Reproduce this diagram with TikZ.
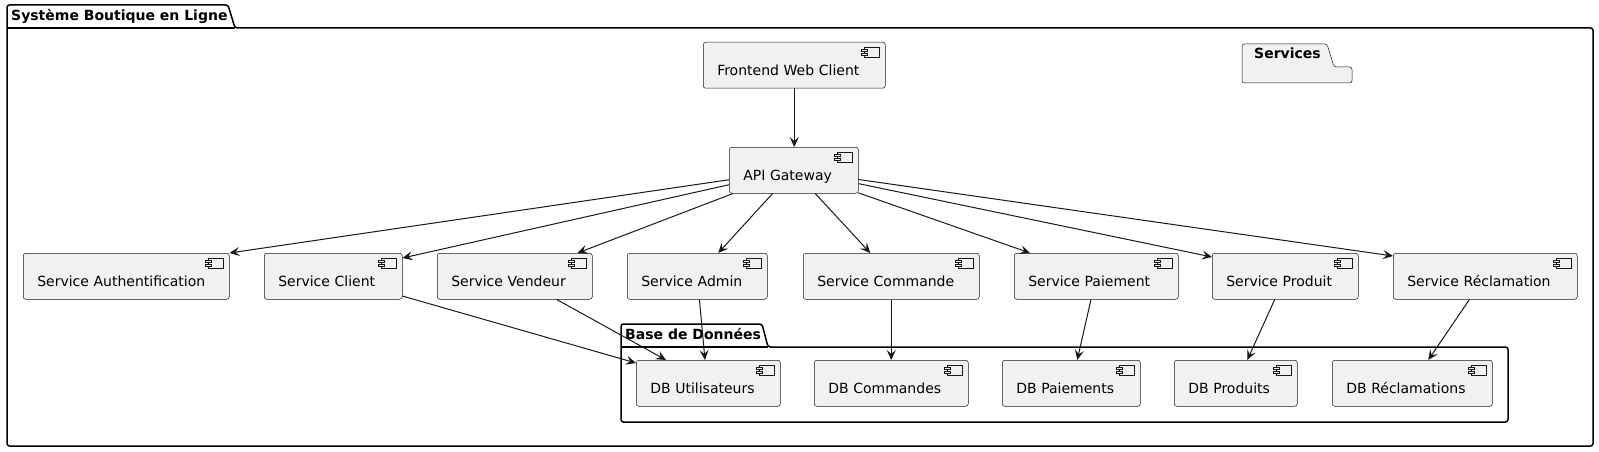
\documentclass[tikz,border=0pt]{standalone}
\usepackage{fontspec}
\setmainfont{DejaVu Sans}
\usetikzlibrary{arrows.meta,calc}
\definecolor{edgec}{HTML}{181818}
\definecolor{compfill}{HTML}{F1F1F1}
\begin{document}
\begin{tikzpicture}[x=1pt,y=-1pt,
  font=\fontsize{14pt}{17pt}\selectfont,
  comp/.style={draw=edgec, line width=0.5pt, fill=compfill, rounded corners=2.5pt,
    anchor=north west, inner xsep=14pt, inner ysep=0pt, minimum height=46pt,
    text height=24pt, text depth=3pt, align=left,
    path picture={
      \filldraw[sharp corners, fill=compfill, draw=edgec, line width=0.5pt]
        ([xshift=-21pt,yshift=-5pt]path picture bounding box.north east) rectangle ++(15pt,-10pt);
      \filldraw[sharp corners, fill=compfill, draw=edgec, line width=0.5pt]
        ([xshift=-24pt,yshift=-7pt]path picture bounding box.north east) rectangle ++(6pt,-2pt);
      \filldraw[sharp corners, fill=compfill, draw=edgec, line width=0.5pt]
        ([xshift=-24pt,yshift=-11pt]path picture bounding box.north east) rectangle ++(6pt,-2pt);
    }},
  pkg/.style={draw=black, line width=1.5pt, rounded corners=2.5pt},
  pkgtitle/.style={anchor=base west, inner sep=0pt, font=\fontsize{14pt}{17pt}\selectfont\bfseries},
  arr/.style={draw=edgec, line width=1pt, -{Stealth[length=10pt,width=9pt,inset=4pt]}}
]
\useasboundingbox (0,0) rectangle (1599,452);

% outer package
\draw[pkg] (7,446) -- (7,5) -- (228,5) -- (235,28) -- (1593,28) -- (1593,446) -- cycle;
\draw[pkg] (7,28) -- (235,28);
\node[pkgtitle] (tsys) at (11,21) {Système Boutique en Ligne};

% Services package (empty)
\filldraw[fill=compfill, draw=edgec, line width=0.5pt, rounded corners=2.5pt]
  (1242,83) -- (1242,44) -- (1327,44) -- (1334,67) -- (1352,67) -- (1352,83) -- cycle;
\node[pkgtitle] (tserv) at (1254,59) {Services};

% DB package
\draw[pkg] (621,422) -- (621,324) -- (762,324) -- (768,347) -- (1508,347) -- (1508,422) -- cycle;
\draw[pkg] (621,347) -- (768,347);
\node[pkgtitle] (tdb) at (625,339) {Base de Données};

% components
\node[comp, text width=154pt] (front) at (703,42) {Frontend Web Client};
\node[comp, text width=101pt] (api) at (729,147) {API Gateway};

\node[comp, text width=178pt] (auth) at (23,253) {Service Authentification};
\node[comp, text width=110pt] (client) at (264,253) {Service Client};
\node[comp, text width=127pt] (vend) at (437,253) {Service Vendeur};
\node[comp, text width=112pt] (admin) at (627,253) {Service Admin};
\node[comp, text width=148pt] (cmd) at (803,253) {Service Commande};
\node[comp, text width=136pt] (pay) at (1014,253) {Service Paiement};
\node[comp, text width=118pt] (prod) at (1212,253) {Service Produit};
\node[comp, text width=156pt] (recl) at (1393,253) {Service Réclamation};

\node[comp, text width=116pt] (dbu) at (636,360) {DB Utilisateurs};
\node[comp, text width=126pt] (dbc) at (814,360) {DB Commandes};
\node[comp, text width=110pt] (dbp) at (1002,360) {DB Paiements};
\node[comp, text width=95pt] (dbpr) at (1174,360) {DB Produits};
\node[comp, text width=132pt] (dbr) at (1332,360) {DB Réclamations};

% connectors
\draw[arr] (front.south) -- (front.south |- api.north);
\draw[arr] (api) -- (auth.north east);
\draw[arr] (api) -- ($(client.north east)+(0,5)$);
\draw[arr] (api) -- ($(vend.north east)+(-15,0)$);
\draw[arr] (api) -- ($(admin.north)+(21,0)$);
\draw[arr] (api) -- ($(cmd.north)+(-21,0)$);
\draw[arr] (api) -- ($(pay.north west)+(16,0)$);
\draw[arr] (api) -- ($(prod.north west)+(0,4)$);
\draw[arr] (api) -- ($(recl.north west)+(0,3)$);

\draw[arr] (client) -- ($(dbu.north west)+(0,3)$);
\draw[arr] (vend) -- ($(dbu.north west)+(30,0)$);
\draw[arr] (admin) -- ($(dbu.north west)+(69,0)$);
\draw[arr] (cmd) -- (dbc.north);
\draw[arr] (pay) -- ($(dbp.north)+(6,0)$);
\draw[arr] (prod) -- ($(dbpr.north)+(11.5,0)$);
\draw[arr] (recl) -- ($(dbr.north)+(16,0)$);
\end{tikzpicture}
\end{document}
